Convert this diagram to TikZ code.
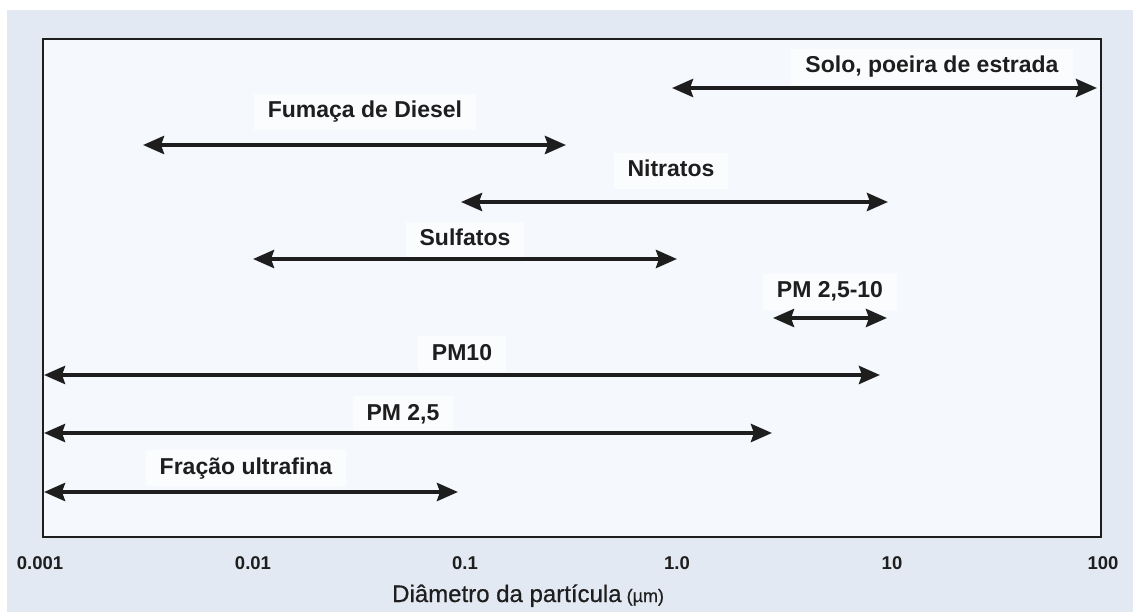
\documentclass[tikz,border=0pt]{standalone}
\usepackage{fontspec}
\setmainfont{Liberation Sans}
\newfontfamily\titlefont[FakeBold=0.6]{Liberation Sans}
\usetikzlibrary{arrows.meta}
\definecolor{pagebg}{HTML}{E3E9F3}
\definecolor{plotbg}{HTML}{F5F8FC}
\definecolor{patch}{HTML}{FBFCFE}
\definecolor{ink}{HTML}{1E1E1E}

\begin{document}
\begin{tikzpicture}[x=1pt,y=-1pt,
  sizerange/.style={line width=4pt, draw=ink,
    {Stealth[length=21pt,width=18pt,inset=3pt]}-{Stealth[length=21pt,width=18pt,inset=3pt]}},
  rangelabel/.style={anchor=base, fill=patch, text=ink,
    font=\bfseries\fontsize{23}{25}\selectfont,
    inner xsep=14pt, inner ysep=7pt, text height=17pt, text depth=5pt},
  ticklabel/.style={anchor=base, text=ink, inner sep=0pt,
    font=\bfseries\fontsize{18.5}{20}\selectfont},
]
\useasboundingbox (0,0) rectangle (1133,612);
\fill[white] (0,0) rectangle (1133,612);
\fill[pagebg] (7,10) rectangle (1133,612);

% plot frame
\draw[line width=1.8pt, draw=ink, fill=plotbg] (43,39) rectangle (1101,537);

% labels (drawn first so the arrows sit on top of their light patches)
\node[rangelabel] (lsolo)    at (932,73)  {Solo, poeira de estrada};
\node[rangelabel] (ldiesel)  at (365,118) {Fumaça de Diesel};
\node[rangelabel] (lnitr)    at (671,177) {Nitratos};
\node[rangelabel] (lsulf)    at (465,246) {Sulfatos};
\node[rangelabel] (lpmc)     at (830,298) {PM 2,5-10};
\node[rangelabel] (lpm10)    at (462,360) {PM10};
\node[rangelabel] (lpm25)    at (403,420) {PM 2,5};
\node[rangelabel] (lufine)   at (246,474) {Fração ultrafina};

% range end points
\coordinate (solo-a)   at (672,88);  \coordinate (solo-b)   at (1097,88);
\coordinate (diesel-a) at (143,145); \coordinate (diesel-b) at (566,145);
\coordinate (nitr-a)   at (461,202); \coordinate (nitr-b)   at (888,202);
\coordinate (sulf-a)   at (253,259); \coordinate (sulf-b)   at (677,259);
\coordinate (pmc-a)    at (773,318); \coordinate (pmc-b)    at (887,318);
\coordinate (pm10-a)   at (44,375);  \coordinate (pm10-b)   at (880,375);
\coordinate (pm25-a)   at (44,433);  \coordinate (pm25-b)   at (772,433);
\coordinate (ufine-a)  at (44,492);  \coordinate (ufine-b)  at (458,492);

\draw[sizerange] (solo-a) -- (solo-b);
\draw[sizerange] (diesel-a) -- (diesel-b);
\draw[sizerange] (nitr-a) -- (nitr-b);
\draw[sizerange] (sulf-a) -- (sulf-b);
\draw[sizerange] (pmc-a) -- (pmc-b);
\draw[sizerange] (pm10-a) -- (pm10-b);
\draw[sizerange] (pm25-a) -- (pm25-b);
\draw[sizerange] (ufine-a) -- (ufine-b);

% logarithmic axis labels
\node[ticklabel] (t1) at (40,569)   {0.001};
\node[ticklabel] (t2) at (253,569)  {0.01};
\node[ticklabel] (t3) at (465,569)  {0.1};
\node[ticklabel] (t4) at (677,569)  {1.0};
\node[ticklabel] (t5) at (892,569)  {10};
\node[ticklabel] (t6) at (1103,569) {100};

\node[anchor=base west, inner sep=0pt, text=ink] (axtitle) at (392,602)
  {\titlefont\fontsize{24}{26}\selectfont Diâmetro da partícula\fontsize{18}{20}\selectfont\ (µm)};
\end{tikzpicture}
\end{document}
